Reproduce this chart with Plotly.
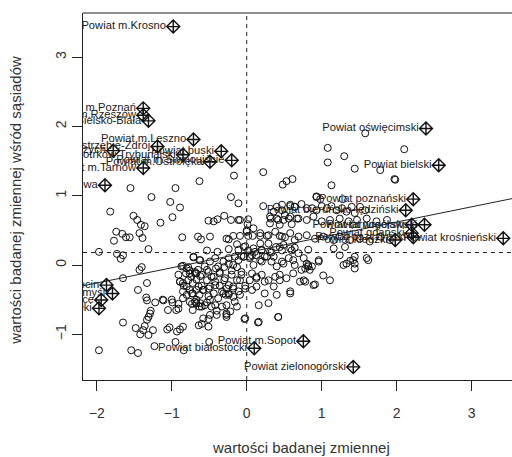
import plotly.graph_objects as go

# ---------------- data (standardised variable x, spatial lag wx) ----------------
x_vals = [
    -1.55, -0.95, -0.63, -0.17, 0.22, 0.48, 0.53, 0.61, -1.27, -0.21, 0.93,
    -1.02, -0.89, -1.82, -0.99, -1.15, -1.51, -1.46, -1.41, -1.36, -1.74, -1.66, -1.61, -1.56, -1.43, -1.39, -0.86, -0.65,
    -1.77, -1.31, -1.97, -1.73, -1.68, -1.65, -1.43, -1.40, -1.65, -1.45, -1.33, -1.34, -1.33,
    -1.65, -1.48, -1.42, -1.38, -1.36, -1.33, -1.31, -1.29, -1.28, -1.25, -1.22, -1.11, -1.06, -1.03, -0.93, -0.89, -0.85,
    -0.99, -0.91, -1.05, -0.91, -0.95, -0.50, -1.97, -1.54, -1.45, -1.23, -0.84, -0.03, 0.15, 0.42,
    -1.12, -1.00, -0.94, -1.31,
    -0.87, -0.80, -0.76, -0.74, -0.69, -0.65, -0.89, -0.85, -0.80, -0.76, -0.72, -0.67, -0.63, -0.85, -0.76, -0.67, -0.63, -0.72, -0.71, -0.63,
    -0.11, 0.22, 0.40, 0.47, 0.58, 0.64, -0.30, -0.51, -0.44, -0.39, -0.21, -0.11, -0.09, 0.02, 0.01, 0.00, 0.32, 0.31, 0.42, 0.51,
    0.44, 0.56, 0.60, 0.67, -0.61, -0.49, -0.27, -0.24, -0.18, -0.09, 0.02, 0.08, 0.18, 0.27, 0.44, 0.51, 0.64, -0.13, -0.02, 0.18,
    0.29, 0.39, 0.49, 0.64, -0.53, -0.39, -0.24, -0.11, 0.02, 0.11, 0.20, 0.33, 0.47, 0.60, -0.16, -0.07, 0.04, 0.13, 0.24,
    -0.62, -0.56, -0.49, -0.42, -0.38, -0.31, -0.24, -0.18, -0.11, -0.04, 0.04, 0.09, 0.20, 0.27, 0.33, 0.40, 0.49, 0.56, 0.64, 0.73,
    -0.67, -0.60, -0.51, -0.44, -0.36, -0.29, -0.20, -0.13, -0.07, 0.07, 0.13, 0.20, 0.29, 0.38, 0.44, 0.53, 0.62,
    -0.64, -0.58, -0.51, -0.42, -0.33, -0.27, -0.24, -0.18, -0.11, -0.02, 0.07, 0.13, 0.24, 0.40, 0.58, 0.71,
    -0.69, -0.62, -0.56, -0.49, -0.42, -0.27, -0.16, 0.16, 0.29, -0.58, -0.49, -0.27, -0.02, 0.16, 0.42, -0.64, -0.51,
    -0.85, -0.78, -0.71, -0.91, -0.81, -0.76, -0.69, -0.62, -0.53, -0.47, -0.41, -0.36, -0.30, -0.24, -0.20, -0.13, -0.07,
    -0.89, -0.84, -0.78, -0.72, -0.67, -0.60, -0.53, -0.49, -0.42, -0.36, -0.30, -0.24, -0.18, -0.09, -0.02,
    -0.85, -0.80, -0.73, -0.67, -0.58, -0.51, -0.44, -0.38, -0.31, -0.28, -0.24, -0.18, -0.09,
    -0.73, -0.67, -0.60, -0.53, -0.47, -0.40, -0.33, -0.27, -0.22, -0.13, -0.60, -0.51, -0.40, -0.27,
    1.58, 1.08, 2.10, 1.08, 1.30, 1.44, 1.78, 1.97, 1.98, 1.13, 0.93, 0.98, 1.28,
    0.36, 0.47, 0.58, 0.64, 0.73, 0.80, 0.87, 0.93, 1.00, 1.07, 1.13, 1.20, 1.27, 1.33, 1.40, 1.44, 1.51, 1.58,
    0.31, 0.40, 0.49, 0.58, 0.69, 0.80, 0.89, 1.00, 1.11, 1.24, 1.36, 1.47, 1.60, 1.73, 1.87,
    0.00, 0.09, 0.18, 0.29, 0.38, 0.47, 0.58, 0.69, 0.80, 0.91, 1.02, 1.16, 1.24, 1.38, 1.51, 1.64, 1.78, 1.91,
    -0.04, 0.09, 0.20, 0.31, 0.44, 0.58, 0.69, 0.82, 0.96, 1.16, 1.31,
    -0.04, 0.07, 0.18, 0.36, 0.47, 0.62, 0.76, 0.82, 0.87, 0.96, 1.33, 1.44, 1.44, 1.44, 1.62, 1.24,
    0.04, 0.13, 0.24, 0.36, 0.44, 0.58, 0.78, 0.89,
    0.80, 0.82, 0.78, 0.84, 1.29, 1.38, 1.42, 1.60, 0.76, 0.91, 1.02, 1.11,
]
wx_vals = [
    1.11, 1.11, 1.21, 1.29, 1.34, 1.16, 1.21, 1.24, 0.98, 0.98, 0.98,
    0.91, 0.83, 0.77, 0.69, 0.61, 0.71, 0.65, 0.58, 0.56, 0.48, 0.45, 0.40, 0.40, 0.46, 0.39, 0.40, 0.41,
    0.35, 0.23, 0.19, 0.16, 0.09, 0.14, -0.07, -0.03, -0.19, -0.36, -0.26, -0.47, -0.51,
    -0.83, -0.91, -1.00, -0.94, -0.88, -0.79, -0.75, -0.70, -0.66, -0.94, -0.54, -0.51, -0.93, -0.90, -0.96, -0.93, -0.89,
    -0.54, -0.56, -0.65, -0.63, -1.11, -1.11, -1.23, -1.23, -1.27, -1.17, -1.23, -0.78, -0.83, -0.75,
    -0.50, -0.50, -0.65, -1.01,
    -0.02, -0.05, -0.12, -0.17, -0.12, -0.07, -0.24, -0.26, -0.31, -0.36, -0.41, -0.36, -0.43, -0.48, -0.53, -0.55, -0.60, -0.65, 0.12, 0.07,
    0.89, 0.85, 0.84, 0.87, 0.87, 0.84, 0.71, 0.64, 0.63, 0.66, 0.65, 0.65, 0.65, 0.66, 0.59, 0.50, 0.67, 0.60, 0.65, 0.72,
    0.58, 0.67, 0.59, 0.67, 0.37, 0.41, 0.38, 0.37, 0.42, 0.42, 0.42, 0.42, 0.42, 0.42, 0.42, 0.40, 0.36, 0.30, 0.27, 0.31,
    0.31, 0.26, 0.29, 0.25, 0.21, 0.19, 0.23, 0.22, 0.21, 0.19, 0.21, 0.18, 0.21, 0.21, 0.12, 0.13, 0.12, 0.14, 0.12,
    0.07, -0.02, 0.05, 0.10, -0.02, 0.05, 0.10, 0.00, 0.07, 0.12, 0.10, 0.00, 0.05, 0.12, 0.05, -0.02, 0.02, 0.10, 0.00, -0.07,
    -0.12, -0.14, -0.10, -0.17, -0.12, -0.19, -0.14, -0.22, -0.14, -0.12, -0.19, -0.14, -0.22, -0.17, -0.14, -0.19, -0.12,
    -0.31, -0.36, -0.34, -0.29, -0.38, -0.34, -0.43, -0.31, -0.38, -0.34, -0.36, -0.31, -0.41, -0.43, -0.41, -0.24,
    -0.53, -0.55, -0.58, -0.50, -0.58, -0.58, -0.53, -0.58, -0.55, -0.77, -0.72, -0.72, -0.77, -0.82, -0.75, -0.87, -0.89,
    -0.01, -0.03, 0.11, -0.14, -0.12, -0.08, -0.10, -0.16, -0.07, -0.17, -0.05, -0.10, -0.03, 0.02, -0.08, -0.03, -0.10,
    -0.24, -0.30, -0.22, -0.26, -0.21, -0.30, -0.22, -0.31, -0.24, -0.30, -0.22, -0.29, -0.34, -0.22, -0.30,
    -0.38, -0.43, -0.41, -0.50, -0.36, -0.45, -0.41, -0.48, -0.41, -0.43, -0.41, -0.46, -0.43,
    -0.56, -0.55, -0.60, -0.54, -0.60, -0.66, -0.60, -0.70, -0.67, -0.60, -0.85, -0.78, -0.72, -0.75,
    1.90, 1.69, 1.67, 1.48, 1.57, 1.39, 1.37, 1.24, 1.23, 1.15, 0.99, 0.95, 0.95,
    0.77, 0.79, 0.85, 0.84, 0.88, 0.82, 0.82, 0.79, 0.85, 0.82, 0.85, 0.79, 0.82, 0.77, 0.84, 0.75, 0.84, 0.79,
    0.70, 0.67, 0.65, 0.70, 0.67, 0.65, 0.70, 0.63, 0.65, 0.67, 0.63, 0.65, 0.67, 0.63, 0.65,
    0.48, 0.53, 0.46, 0.43, 0.48, 0.41, 0.46, 0.41, 0.43, 0.38, 0.41, 0.36, 0.41, 0.36, 0.38, 0.34, 0.41, 0.36,
    0.26, 0.24, 0.22, 0.19, 0.26, 0.24, 0.17, 0.22, 0.07, 0.24, 0.26,
    0.12, 0.14, 0.07, 0.12, 0.05, 0.07, 0.10, 0.00, -0.02, 0.05, 0.02, 0.12, 0.02, -0.05, 0.07, 0.14,
    -0.22, -0.17, -0.24, -0.31, -0.22, -0.38, -0.24, -0.29,
    0.02, -0.02, -0.05, -0.07, 0.00, 0.06, 0.07, 0.10, -0.22, -0.28, -0.15, -0.22,
]

# influential observations (labelled)
inf_names = [
    "Powiat m.Krosno", "Powiat m.Poznań", "Powiat m.Rzeszów", "Powiat m.Bielsko-Biała",
    "Powiat m.Leszno", "Powiat m.Jastrzębie-Zdrój", "Powiat m.Wałbrzych", "Powiat buski",
    "Powiat m.Piotrków Trybunalski", "Powiat m.Ostrołęka", "Powiat m.Świnoujście",
    "Powiat m.Tarnów", "Powiat m.Częstochowa",
    "Powiat oświęcimski", "Powiat bielski", "Powiat poznański", "Powiat bieruńsko-lędziński",
    "Powiat wrocławski", "Powiat tarnogórski", "Powiat gdański", "Powiat kłodzki", "Powiat pszczyński",
    "Powiat krośnieński",
    "Powiat m.Sopot", "Powiat białostocki", "Powiat zielonogórski",
    "Powiat m.Szczecin", "Powiat m.Przemyśl", "Powiat m.Siedlce", "Powiat m.Suwałki",
]
inf_x = [-0.98, -1.38, -1.38, -1.31, -0.71, -1.19, -1.78, -0.34, -0.85, -0.49, -0.20, -1.38, -1.89,
         2.39, 2.56, 2.22, 2.12, 2.37, 2.20, 2.20, 1.98, 2.22, 3.42,
         0.755, 0.10, 1.42, -1.87, -1.79, -1.94, -1.97]
inf_wx = [3.44, 2.26, 2.16, 2.08, 1.81, 1.71, 1.65, 1.64, 1.59, 1.49, 1.51, 1.40, 1.15,
          1.97, 1.44, 0.95, 0.79, 0.58, 0.58, 0.46, 0.36, 0.40, 0.385,
          -1.10, -1.20, -1.47, -0.29, -0.41, -0.505, -0.625]

mean_wx = 0.18          # horizontal reference line (mean of spatial lag)
mean_x = 0.0            # vertical reference line
fit_intercept = 0.18
fit_slope = 0.22

x_range = [-2.183, 3.537]
y_range = [-1.659, 3.636]
x_ticks = [-2, -1, 0, 1, 2, 3]
y_ticks = [-1, 0, 1, 2, 3]

# ---------------- figure ----------------
fig = go.Figure()

fig.add_trace(go.Scatter(
    x=x_vals, y=wx_vals, mode="markers",
    marker=dict(symbol="circle-open", size=7, color="#111", line=dict(width=1)),
    hoverinfo="skip", showlegend=False))

line_x = [x_range[0], x_range[1]]
fig.add_trace(go.Scatter(
    x=line_x, y=[fit_intercept + fit_slope * v for v in line_x], mode="lines",
    line=dict(color="#222", width=1), showlegend=False, hoverinfo="skip"))

fig.add_trace(go.Scatter(
    x=inf_x, y=inf_wx, mode="markers+text", text=inf_names,
    textposition="middle left",
    textfont=dict(family="Liberation Sans, Arial, sans-serif", size=11.2, color="#1a1a1a"),
    marker=dict(symbol="diamond-cross-open", size=10, color="#111", line=dict(width=1.4)),
    cliponaxis=True, showlegend=False, hoverinfo="skip"))

fig.add_hline(y=mean_wx, line=dict(color="#222", width=1, dash="4px,4px"))
fig.add_vline(x=mean_x, line=dict(color="#222", width=1, dash="4px,4px"))

# top frame line
fig.add_shape(type="line", xref="paper", yref="paper", x0=0, x1=1, y0=1, y1=1,
              line=dict(color="#222", width=1))

axis_font = dict(family="Liberation Sans, Arial, sans-serif", size=14, color="#333")

fig.update_layout(
    width=512, height=457,
    margin=dict(l=83, r=0, t=13, b=77),
    paper_bgcolor="white", plot_bgcolor="white",
    font=axis_font,
    xaxis=dict(range=x_range, tickvals=x_ticks, ticks="outside", ticklen=10,
               tickcolor="#222", showline=True, linecolor="#222", linewidth=1,
               showgrid=False, zeroline=False, tickfont=axis_font,
               ticklabelstandoff=10),
    yaxis=dict(range=y_range, tickvals=y_ticks, ticks="outside", ticklen=10,
               tickcolor="#222", showline=True, linecolor="#222", linewidth=1,
               showgrid=False, zeroline=False, tickfont=axis_font, tickangle=-90,
               ticklabelstandoff=0),
    annotations=[
        dict(text="wartości badanej zmiennej", xref="paper", yref="paper",
             x=0.508, y=-0.185, xanchor="center", yanchor="middle", showarrow=False,
             font=dict(family="Liberation Sans, Arial, sans-serif", size=15, color="#333")),
        dict(text="wartości badanej zmiennej wśród sąsiadów", xref="paper", yref="paper",
             x=-0.157, y=0.49, xanchor="center", yanchor="middle", showarrow=False,
             textangle=-90,
             font=dict(family="Liberation Sans, Arial, sans-serif", size=15, color="#333")),
    ],
)

fig.write_html("out.html", config={"displayModeBar": False},
               post_script="document.body.style.margin='0';")
